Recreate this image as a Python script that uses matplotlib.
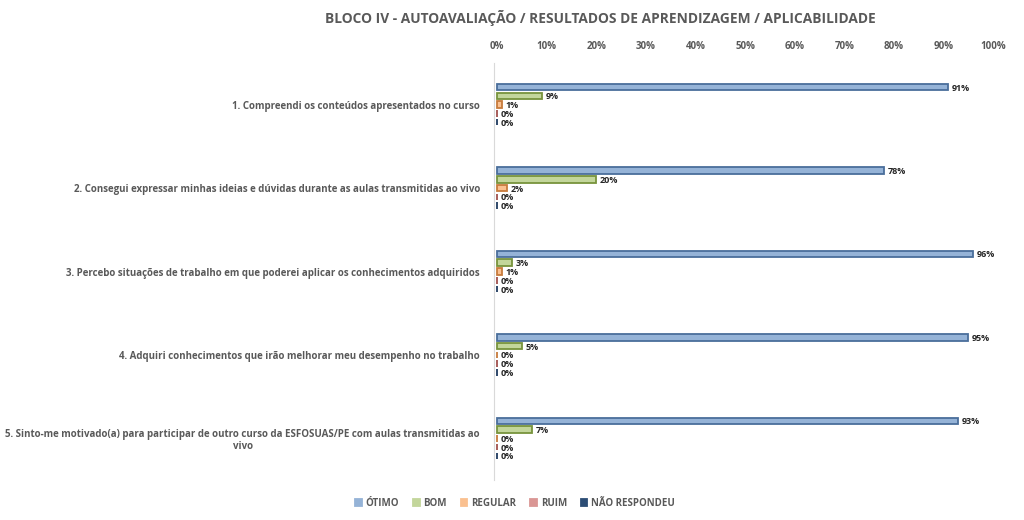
import matplotlib
matplotlib.use("Agg")
import matplotlib.pyplot as plt
import numpy as np
from matplotlib.ticker import FuncFormatter

plt.rcParams['font.family'] = ['Open Sans', 'DejaVu Sans']

title = "BLOCO IV - AUTOAVALIAÇÃO / RESULTADOS DE APRENDIZAGEM / APLICABILIDADE"
categories = [
    "1. Compreendi os conteúdos apresentados no curso",
    "2. Consegui expressar minhas ideias e dúvidas durante as aulas transmitidas ao vivo",
    "3. Percebo situações de trabalho em que poderei aplicar os conhecimentos adquiridos",
    "4. Adquiri conhecimentos que irão melhorar meu desempenho no trabalho",
    "5. Sinto-me motivado(a) para participar de outro curso da ESFOSUAS/PE com aulas transmitidas ao\nvivo",
]
series = ["ÓTIMO", "BOM", "REGULAR", "RUIM", "NÃO RESPONDEU"]
otimo = [0.91, 0.78, 0.96, 0.95, 0.93]
bom = [0.09, 0.20, 0.03, 0.05, 0.07]
regular = [0.01, 0.02, 0.01, 0.00, 0.00]
ruim = [0.00, 0.00, 0.00, 0.00, 0.00]
nao_respondeu = [0.00, 0.00, 0.00, 0.00, 0.00]
values = [otimo, bom, regular, ruim, nao_respondeu]

fills = ["#95B3D7", "#C3D69B", "#FAC090", "#DA9694", "#2C4D75"]
edges = ["#4A6E9B", "#77933C", "#C77B3C", "#A0504D", "#1F3A5F"]

fig = plt.figure(figsize=(10.24, 5.2), dpi=100)
x0 = 494
ax = fig.add_axes([x0/1024, 1-480/520, (993-x0)/1024, (480-63)/520])

y = np.arange(len(categories))
step = 0.105
h = 0.078
text_color = "#595959"
for j, (name, vals) in enumerate(zip(series, values)):
    pos = y + (j - 2) * step
    ax.barh(pos, vals, height=h, color=fills[j], edgecolor=edges[j], linewidth=1.3, label=name)
    for p, v in zip(pos, vals):
        ax.text(v + 0.007, p + 0.012, f"{round(v*100):.0f}%", va="center", ha="left",
                fontsize=6.5, fontweight="bold", color="#262626")

ax.set_xlim(-0.0065, 1)
ax.set_ylim(len(categories) - 0.5, -0.5)
ax.xaxis.tick_top()
ax.set_xticks(np.arange(0, 1.01, 0.1))
ax.xaxis.set_major_formatter(FuncFormatter(lambda v, p: f"{v*100:.0f}%"))
ax.tick_params(axis="x", length=0, pad=8, labelsize=7, labelcolor=text_color)
for lab in ax.get_xticklabels():
    lab.set_fontweight("bold")
ax.set_yticks(y)
ax.set_yticklabels(categories, fontsize=7, fontweight="bold", color=text_color, multialignment="center")
ax.tick_params(axis="y", length=0, pad=10)
for s in ["top", "right", "bottom"]:
    ax.spines[s].set_visible(False)
ax.spines["left"].set_color("#D9D9D9")

fig.text(600/1024, 1-18/520, title, ha="center", va="center", fontsize=9.9, fontweight="bold", color=text_color)

leg = fig.legend(loc="center", bbox_to_anchor=(515/1024, 1-503/520), ncol=5, frameon=False,
                 handlelength=0.7, handleheight=0.7, handletextpad=0.4, columnspacing=1.4,
                 prop={"size": 7, "weight": "bold"})
for t in leg.get_texts():
    t.set_color(text_color)
for hdl, c in zip(leg.legend_handles, fills):
    hdl.set_edgecolor(c)

fig.savefig("out.png", dpi=100)
